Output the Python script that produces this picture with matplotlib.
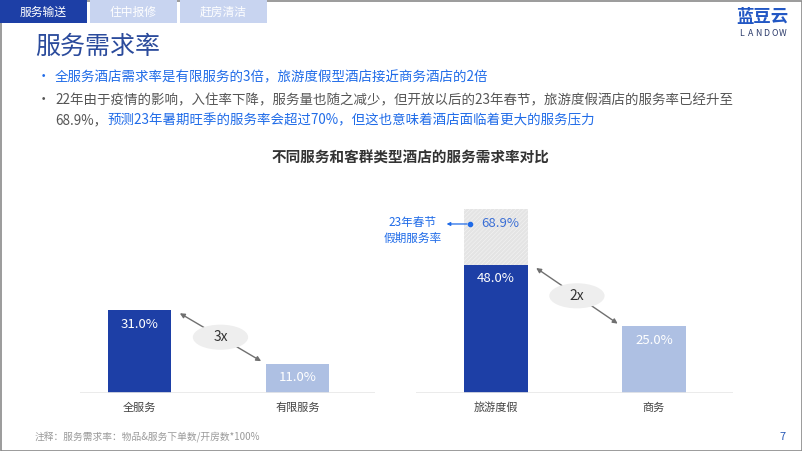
import matplotlib.pyplot as plt
from matplotlib.patches import Rectangle, Ellipse

plt.rcParams['font.family'] = ['Noto Sans CJK SC', 'DejaVu Sans']
plt.rcParams['hatch.linewidth'] = 0.35

categories = ["全服务", "有限服务", "旅游度假", "商务"]
rates = [31.0, 11.0, 48.0, 25.0]
holiday_rate = 68.9
ratios = ["3x", "2x"]
tabs = ["服务输送", "住中报修", "赶房清洁"]

dark_blue = "#1d3fa6"
light_blue = "#aec0e3"
text_blue = "#1f6be8"

fig = plt.figure(figsize=(8.02, 4.51), dpi=100)

# slide background layer in pixel coords
bg = fig.add_axes([0, 0, 1, 1])
bg.set_xlim(0, 802)
bg.set_ylim(451, 0)
bg.axis('off')

bg.add_patch(Rectangle((0.5, 0.5), 801, 450, fill=False, ec="#8a8a8a", lw=1.2))
for i, t in enumerate(tabs):
    bg.add_patch(Rectangle((i * 90, 0), 87, 23, color=dark_blue if i == 0 else "#c8d4f0", lw=0))
    bg.text(i * 90 + 43.5, 12, t, color="white", fontsize=8.5, ha="center", va="center")

bg.text(35, 47, "服务需求率", color="#2b4b9c", fontsize=18, va="center")
bg.text(762, 17, "蓝豆云", color="#2257c4", fontsize=12.5, fontweight="bold", ha="center", va="center")
for i, ch in enumerate("LANDOW"):
    bg.text(742 + i * 8.2, 34, ch, color="#2c3b6b", fontsize=6.3, ha="center", va="center")

fs = 9.7
bg.text(37, 77, "•", color=text_blue, fontsize=fs, va="center")
bg.text(55, 77, "全服务酒店需求率是有限服务的3倍，旅游度假型酒店接近商务酒店的2倍",
        color=text_blue, fontsize=fs, va="center")
bg.text(37, 100, "•", color="#555555", fontsize=fs, va="center")
bg.text(55, 100, "22年由于疫情的影响，入住率下降，服务量也随之减少，但开放以后的23年春节，旅游度假酒店的服务率已经升至",
        color="#555555", fontsize=fs, va="center")
t1 = bg.text(55, 120, "68.9%，", color="#555555", fontsize=fs, va="center")
bg.annotate("预测23年暑期旺季的服务率会超过70%，但这也意味着酒店面临着更大的服务压力",
            xy=(1, 0.5), xycoords=t1, color=text_blue, fontsize=fs, va="center")

bg.text(411, 157, "不同服务和客群类型酒店的服务需求率对比", color="#333333", fontsize=10.5,
        fontweight="bold", ha="center", va="center")
bg.text(35, 437, "注释：服务需求率：物品&服务下单数/开房数*100%", color="#9a9a9a", fontsize=7,
        style="italic", va="center")
bg.text(779, 437, "7", color="#2a5bb8", fontsize=8, va="center")

# chart
ax = fig.add_axes([80 / 802, 58 / 451, 660 / 802, 200 / 451])
ax.set_xlim((80 - 139.5) / 158, (740 - 139.5) / 158)
ax.set_ylim(0, 200 / 2.67)
ax.axis('off')

xpos = [0, 1, 2.256, 3.256]
w = 0.4
colors = [dark_blue, light_blue, dark_blue, light_blue]

ax.bar(xpos[2], holiday_rate, width=w, color="#e4e4e4", hatch="////////", edgecolor="#f6f6f6", lw=0)
ax.bar(xpos, rates, width=w, color=colors, lw=0)

ax.hlines(0, -0.377, 1.49, color="#e8e8e8", lw=1.2)
ax.hlines(0, 1.75, 3.756, color="#e8e8e8", lw=1.2)

for x, v, c in zip(xpos, rates, categories):
    ax.text(x, v - 5.3, f"{v:.1f}%", color="white", fontsize=9.5, ha="center", va="center")
    ax.text(x, -5.6, c, color="#444444", fontsize=8, ha="center", va="center")

ly = holiday_rate - 5.6
ax.text(xpos[2] + 0.03, ly, f"{holiday_rate:.1f}%", color="#3b6fd6",
        fontsize=9.5, ha="center", va="center")
ax.annotate("", xy=(xpos[2] - 0.33, ly), xytext=(xpos[2] - 0.165, ly),
            arrowprops=dict(arrowstyle="-|>", color=text_blue, lw=0.9, mutation_scale=5))
ax.plot(xpos[2] - 0.165, ly, "o", color=text_blue, ms=3)
ax.text(xpos[2] - 0.53, ly - 2.4, "23年春节\n假期服务率", color=text_blue, fontsize=8.4,
        fontweight="medium", ha="center", va="center", linespacing=1.3)

# ratio arrows
for (a, b), r in zip([(0, 1), (2, 3)], ratios):
    x0, y0 = xpos[a] + w / 2 + 0.04, rates[a] - 0.6
    x1, y1 = xpos[b] - w / 2 - 0.015, rates[b] + 0.4
    ax.annotate("", xy=(x0, y0), xytext=(x1, y1),
                arrowprops=dict(arrowstyle="<|-|>", color="#707070", lw=1, mutation_scale=7))
    cx, cy = (x0 + x1) / 2, (y0 + y1) / 2
    ax.add_patch(Ellipse((cx, cy), 0.35, 9.4, color="#eeeeee", lw=0, zorder=3))
    ax.text(cx, cy, r, color="#333333", fontsize=10, ha="center", va="center", zorder=4)

fig.savefig("out.png", dpi=100)
